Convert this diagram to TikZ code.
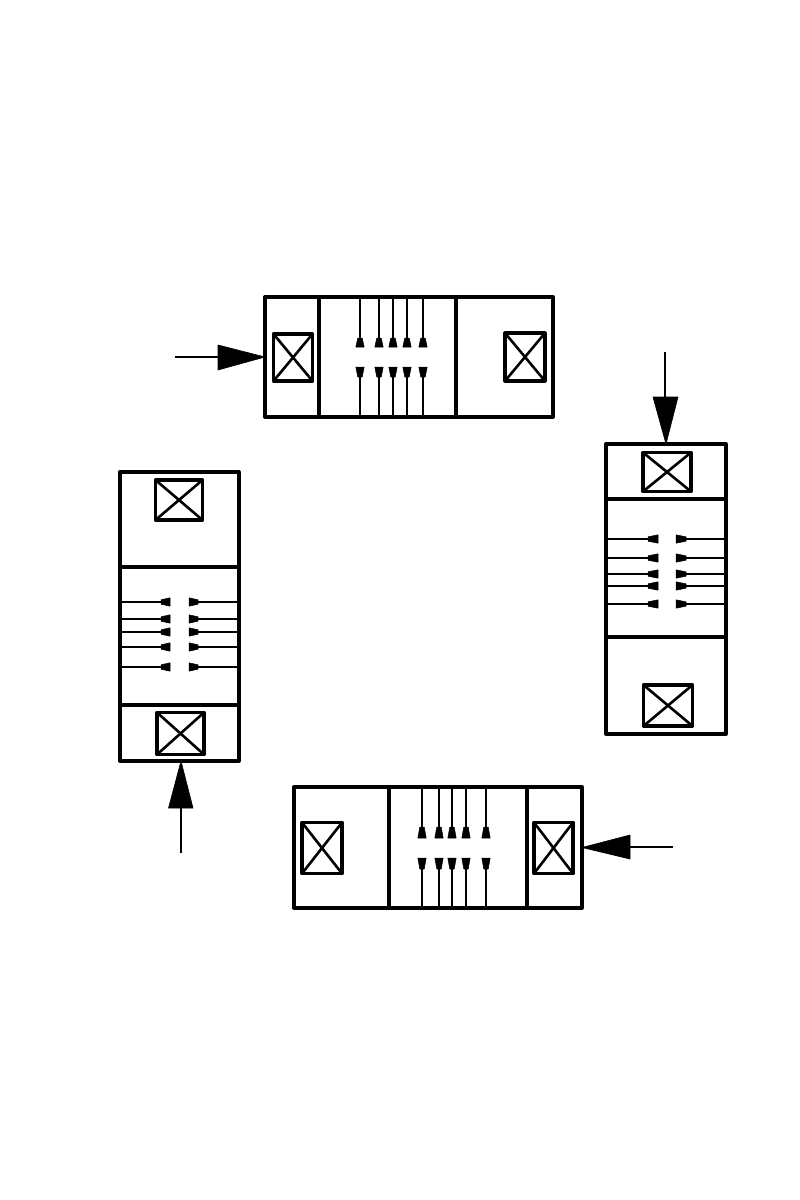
\documentclass[tikz,border=0pt]{standalone}
\tikzset{
  unit/.style={draw=black,line width=3.3pt,rectangle,inner sep=0pt,outer sep=0pt,line join=round},
  xbox/.style={draw=black,line width=3.2pt,rectangle,inner sep=0pt,outer sep=0pt,line join=round},
  xcross/.style={line width=2.6pt,black},
  divider/.style={line width=3.2pt,black},
  leadline/.style={line width=2pt,black},
  feedline/.style={line width=2pt,black},
  bighead/.style={fill=black,draw=black,line width=.6pt,line join=round},
  smallhead/.style={fill=black,draw=black,line width=.5pt,line join=round}
}
% vertical lead: x, y on border, tip y, base y
\newcommand{\vlead}[4]{%
  \draw[leadline] (#1,#2) -- (#1,#3);
  \filldraw[smallhead] (#1-2.2,#3) -- (#1+2.2,#3) -- (#1+4.2,#4) -- (#1-4.2,#4) -- cycle;}
\newcommand{\hlead}[4]{%
  \draw[leadline] (#2,#1) -- (#3,#1);
  \filldraw[smallhead] (#3,#1-2.2) -- (#3,#1+2.2) -- (#4,#1+4.2) -- (#4,#1-4.2) -- cycle;}
\newcommand{\crossbox}[1]{%
  \draw[xcross] (#1.north west) -- (#1.south east);
  \draw[xcross] (#1.north east) -- (#1.south west);}
\begin{document}
\begin{tikzpicture}[x=1pt,y=-1pt]
\useasboundingbox (0,0) rectangle (800,1200);
\fill[white] (0,0) rectangle (800,1200);

% ---------- top unit
\node[unit,minimum width=288pt,minimum height=120pt] (top) at (409,357) {};
\draw[divider] (319,297) -- (319,417);
\draw[divider] (456,297) -- (456,417);
\node[xbox,minimum width=39pt,minimum height=47pt] (topA) at (293,357.5) {};
\node[xbox,minimum width=40pt,minimum height=48pt] (topB) at (525,357) {};
\crossbox{topA}\crossbox{topB}
\foreach \p in {360,379,393,407,423}{
  \vlead{\p}{297}{338}{347}
  \vlead{\p}{417}{377}{367}
}
\coordinate (topS) at (175,357);
\draw[feedline] (topS) -- (220,357);
\filldraw[bighead] (218,345) -- (218,370) -- (top.west) -- cycle;

% ---------- right unit
\node[unit,minimum width=120pt,minimum height=290pt] (right) at (666,589) {};
\draw[divider] (606,499) -- (726,499);
\draw[divider] (606,637) -- (726,637);
\node[xbox,minimum width=48pt,minimum height=39pt] (rightA) at (667,472) {};
\node[xbox,minimum width=49pt,minimum height=41pt] (rightB) at (668,705.5) {};
\crossbox{rightA}\crossbox{rightB}
\foreach \p in {539,558,574,586,604}{
  \hlead{\p}{606}{648}{658}
  \hlead{\p}{726}{686}{676}
}
\coordinate (rightS) at (665,352);
\draw[feedline] (rightS) -- (665,399);
\filldraw[bighead] (653,397) -- (678,397) -- (666,444) -- cycle;

% ---------- left unit
\node[unit,minimum width=119pt,minimum height=289pt] (left) at (179.5,616.5) {};
\draw[divider] (120,567) -- (239,567);
\draw[divider] (120,705) -- (239,705);
\node[xbox,minimum width=47pt,minimum height=40pt] (leftA) at (179,500) {};
\node[xbox,minimum width=47pt,minimum height=42pt] (leftB) at (180.5,733.5) {};
\crossbox{leftA}\crossbox{leftB}
\foreach \p in {602,619,632,647,667}{
  \hlead{\p}{120}{161}{170}
  \hlead{\p}{239}{198}{189}
}
\coordinate (leftS) at (181,853);
\draw[feedline] (leftS) -- (181,806);
\filldraw[bighead] (168.5,808) -- (193,808) -- (181,761) -- cycle;

% ---------- bottom unit
\node[unit,minimum width=288pt,minimum height=121pt] (bottom) at (438,847.5) {};
\draw[divider] (389,787) -- (389,908);
\draw[divider] (527,787) -- (527,908);
\node[xbox,minimum width=40pt,minimum height=51pt] (botA) at (322,848) {};
\node[xbox,minimum width=39pt,minimum height=51pt] (botB) at (553.5,848) {};
\crossbox{botA}\crossbox{botB}
\foreach \p in {422,439,452,466,486}{
  \vlead{\p}{787}{827}{838}
  \vlead{\p}{908}{869}{858}
}
\coordinate (botS) at (673,847);
\draw[feedline] (botS) -- (628,847);
\filldraw[bighead] (630,835) -- (630,859) -- (bottom.east) -- cycle;
\end{tikzpicture}
\end{document}
